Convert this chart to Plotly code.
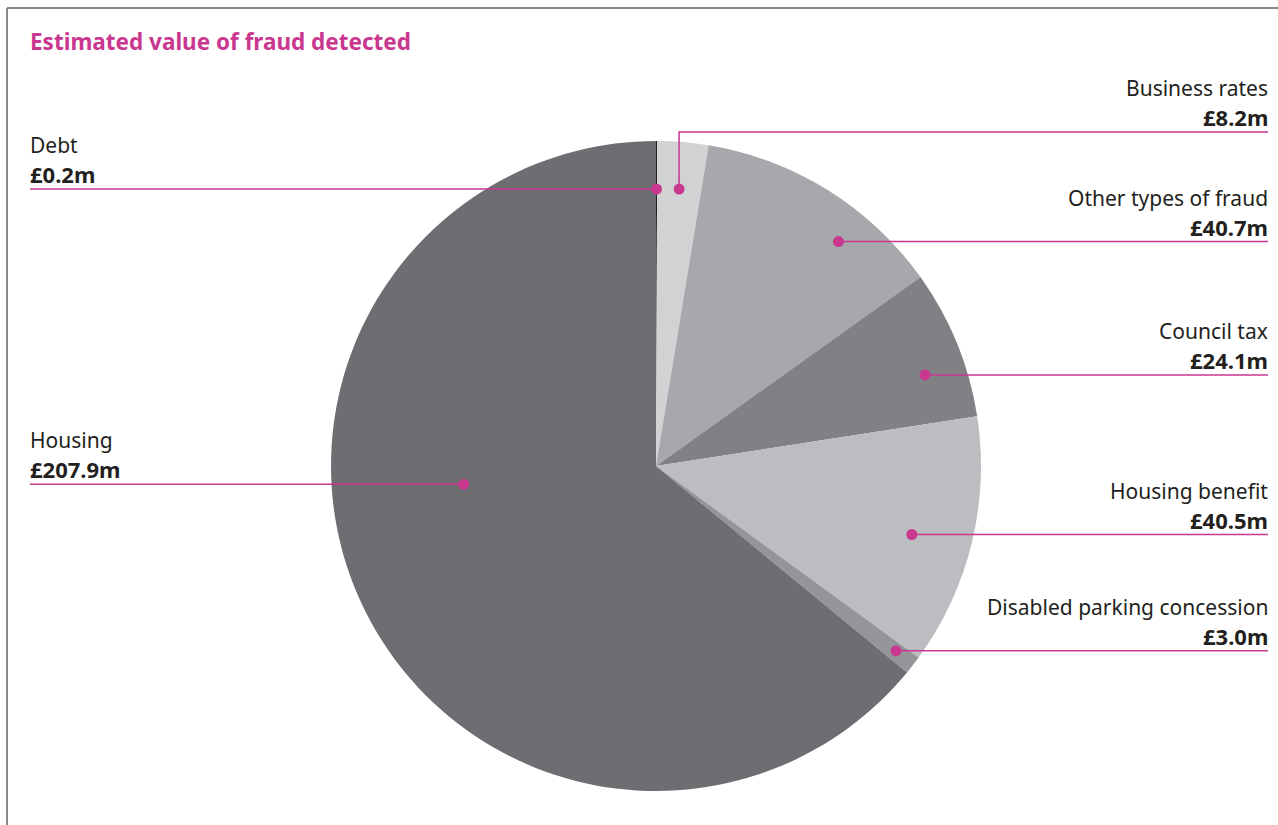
import math
import plotly.graph_objects as go

# data, slices clockwise from 12 o'clock
categories = ['Debt', 'Business rates', 'Other types of fraud', 'Council tax',
              'Housing benefit', 'Disabled parking concession', 'Housing']
values_m = [0.2, 8.2, 40.7, 24.1, 40.5, 3.0, 207.9]
value_labels = ['£0.2m', '£8.2m', '£40.7m', '£24.1m', '£40.5m', '£3.0m', '£207.9m']

slice_colors = ['#231f20', '#d1d2d4', '#a7a8ab', '#808185', '#bcbdc0', '#939598', '#6d6e72']
PINK = '#c9378f'
TEXT = '#231f20'
FONT = 'Noto Sans'

W, H = 1278, 825
CX, CY, R = 656, 466, 325  # pie centre / radius in pixels

# where the callout dot sits: (fraction through slice, fraction of radius, side)
callouts = {
    'Debt': (0.5, 0.852, 'left'),
    'Business rates': (0.5, 0.855, 'right'),
    'Other types of fraud': (0.66, 0.89, 'right'),
    'Council tax': (0.63, 0.874, 'right'),
    'Housing benefit': (0.53, 0.815, 'right'),
    'Disabled parking concession': (0.45, 0.932, 'right'),
    'Housing': (0.586, 0.594, 'left'),
}
elbow_y = {'Business rates': 132}


def px(x):
    return x / W


def py(y):
    return 1 - y / H


fig = go.Figure()
fig.add_trace(go.Pie(
    labels=categories, values=values_m, sort=False, direction='clockwise', rotation=0,
    marker=dict(colors=slice_colors, line=dict(width=0)),
    textinfo='none', hoverinfo='label+value', showlegend=False,
    domain=dict(x=[px(CX - R), px(CX + R)], y=[py(CY + R), py(CY - R)]),
))

shapes = []
annotations = []
total = sum(values_m)
start = 0.0
for cat, v, lab in zip(categories, values_m, value_labels):
    span = v / total * 360
    f, rf, side = callouts[cat]
    th = math.radians(start + f * span)
    start += span
    dx = CX + rf * R * math.sin(th)
    dy = CY - rf * R * math.cos(th)
    ly = elbow_y.get(cat, dy)
    xend = 30 if side == 'left' else 1268
    path = f'M {px(dx)} {py(dy)} L {px(dx)} {py(ly)} L {px(xend)} {py(ly)}'
    shapes.append(dict(type='path', path=path, xref='paper', yref='paper',
                       line=dict(color=PINK, width=1.5), layer='above'))
    shapes.append(dict(type='circle', xref='paper', yref='paper',
                       x0=px(dx - 5.5), x1=px(dx + 5.5), y0=py(dy + 5.5), y1=py(dy - 5.5),
                       fillcolor=PINK, line=dict(width=0), layer='above'))
    anchor = 'left' if side == 'left' else 'right'
    xt = xend - 2 if side == 'left' else xend + 2
    annotations.append(dict(x=px(xt), y=py(ly - 28), xref='paper', yref='paper',
                            text=cat, showarrow=False, xanchor=anchor, yanchor='bottom',
                            font=dict(family=FONT, size=21, color=TEXT)))
    annotations.append(dict(x=px(xt), y=py(ly + 2), xref='paper', yref='paper',
                            text=f'<b>{lab}</b>', showarrow=False, xanchor=anchor,
                            yanchor='bottom', font=dict(family=FONT, size=22, color=TEXT)))

# frame lines top and left
shapes.append(dict(type='line', xref='paper', yref='paper', x0=px(7), x1=1, y0=py(8), y1=py(8),
                   line=dict(color='#8a8a8a', width=2)))
shapes.append(dict(type='line', xref='paper', yref='paper', x0=px(7), x1=px(7), y0=py(8), y1=0,
                   line=dict(color='#8a8a8a', width=2)))

annotations.append(dict(x=px(28), y=py(42), xref='paper', yref='paper',
                        text='<b>Estimated value of fraud detected</b>', showarrow=False,
                        xanchor='left', yanchor='middle',
                        font=dict(family=FONT, size=22.5, color=PINK)))

fig.update_layout(
    width=W, height=H, margin=dict(l=0, r=0, t=0, b=0),
    paper_bgcolor='white', plot_bgcolor='white',
    shapes=shapes, annotations=annotations,
)
# drop the browser's default body margin so the figure sits at the page origin
fig.write_html('out.html', config={'displayModeBar': False},
               post_script="document.body.style.margin='0';")
